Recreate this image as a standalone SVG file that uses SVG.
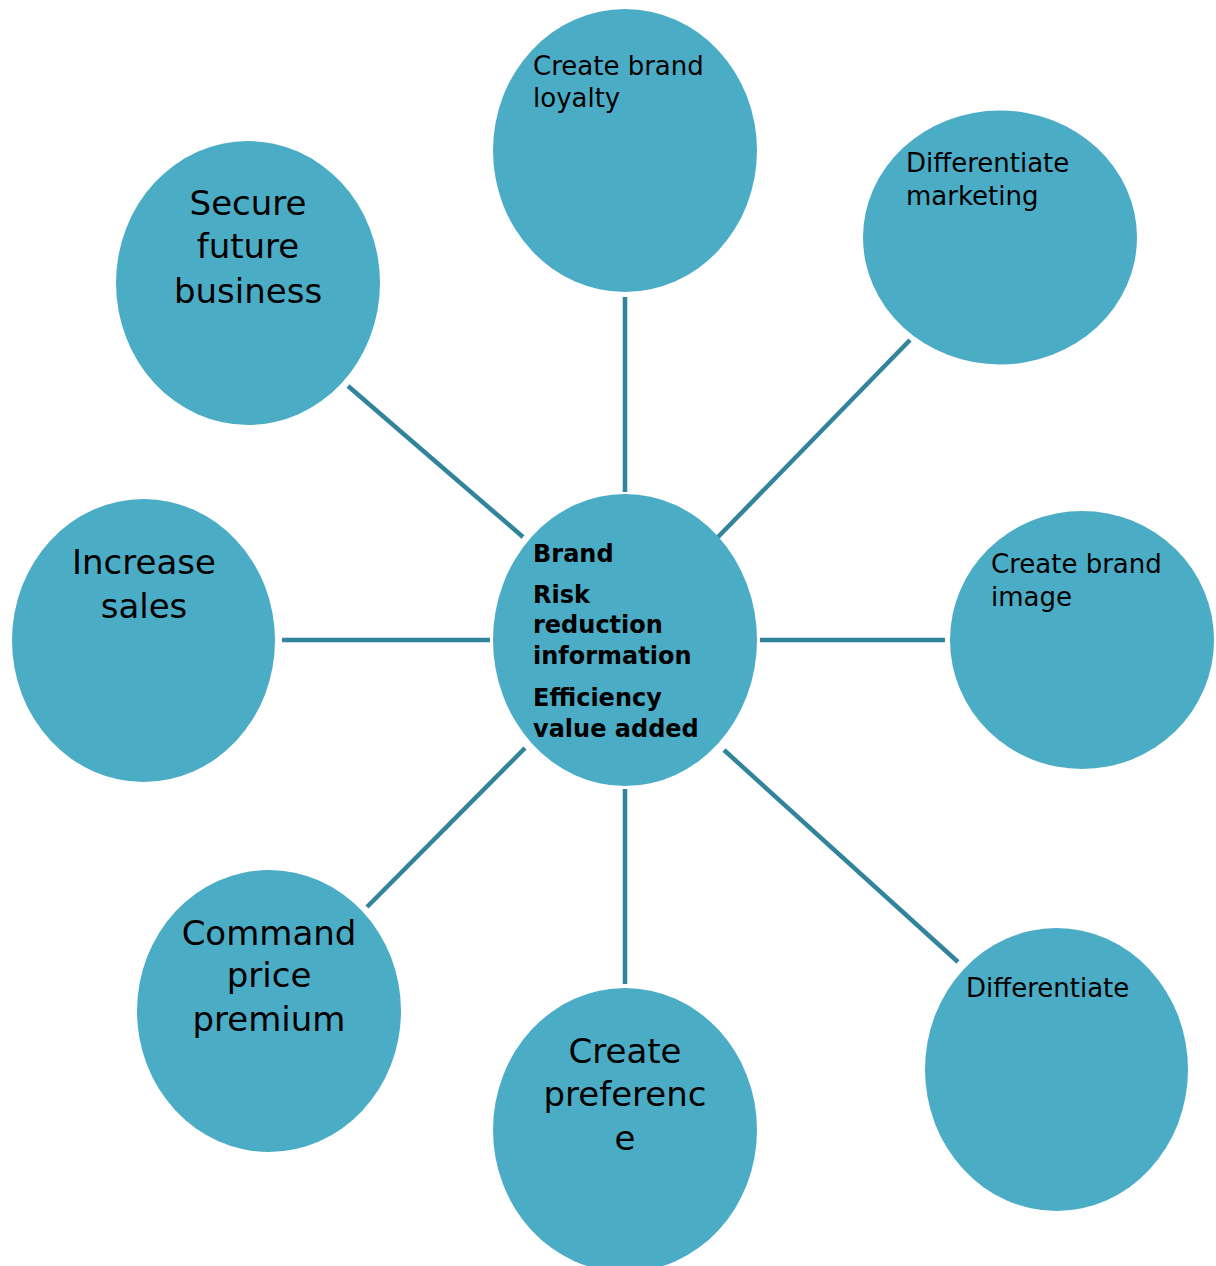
<svg xmlns="http://www.w3.org/2000/svg" width="1216" height="1266" viewBox="0 0 1216 1266">
<style>
.node{fill:#4BACC6}
.conn line{stroke:#31849B;stroke-width:4.5}
text{font-family:"DejaVu Sans","Liberation Sans",sans-serif;fill:#000}
.s{font-size:26px}
.l{font-size:34px;text-anchor:middle}
.b{font-size:24px;font-weight:bold}
</style>
<rect width="1216" height="1266" fill="#fff"/>
<g class="conn" id="connectors">
<line x1="625" y1="297" x2="625" y2="492"/>
<line x1="910" y1="340" x2="718" y2="537"/>
<line x1="760" y1="640" x2="945" y2="640"/>
<line x1="724" y1="750" x2="958" y2="962"/>
<line x1="625" y1="789" x2="625" y2="984"/>
<line x1="525" y1="748" x2="367" y2="907"/>
<line x1="282" y1="640" x2="490" y2="640"/>
<line x1="348" y1="386" x2="523" y2="537"/>
</g>
<g id="center">
<ellipse class="node" cx="625" cy="640" rx="132" ry="146"/>
<text class="b" x="533" y="562">Brand</text>
<text class="b" x="533" y="603">Risk</text>
<text class="b" x="533" y="633">reduction</text>
<text class="b" x="533" y="664">information</text>
<text class="b" x="533" y="706">Efficiency</text>
<text class="b" x="533" y="737">value added</text>
</g>
<g id="loyalty">
<ellipse class="node" cx="625" cy="150.5" rx="132" ry="141.5"/>
<text class="s" x="533" y="75">Create brand</text>
<text class="s" x="533" y="107">loyalty</text>
</g>
<g id="diffmarketing">
<ellipse class="node" cx="1000" cy="237.5" rx="137" ry="127"/>
<text class="s" x="906" y="172">Differentiate</text>
<text class="s" x="906" y="205">marketing</text>
</g>
<g id="brandimage">
<ellipse class="node" cx="1082" cy="640" rx="132" ry="129"/>
<text class="s" x="991" y="573">Create brand</text>
<text class="s" x="991" y="606">image</text>
</g>
<g id="differentiate">
<ellipse class="node" cx="1056.5" cy="1069.5" rx="131.5" ry="141.5"/>
<text class="s" x="966" y="997">Differentiate</text>
</g>
<g id="preference">
<ellipse class="node" cx="625" cy="1130" rx="132" ry="142"/>
<text class="l" x="625" y="1063">Create</text>
<text class="l" x="625" y="1106">preferenc</text>
<text class="l" x="625" y="1150">e</text>
</g>
<g id="premium">
<ellipse class="node" cx="269" cy="1011" rx="132" ry="141"/>
<text class="l" x="269" y="945">Command</text>
<text class="l" x="269" y="987">price</text>
<text class="l" x="269" y="1031">premium</text>
</g>
<g id="sales">
<ellipse class="node" cx="143.5" cy="640.5" rx="131.5" ry="141.5"/>
<text class="l" x="144" y="574">Increase</text>
<text class="l" x="144" y="618">sales</text>
</g>
<g id="secure">
<ellipse class="node" cx="248" cy="283" rx="132" ry="142"/>
<text class="l" x="248" y="215">Secure</text>
<text class="l" x="248" y="258">future</text>
<text class="l" x="248" y="303">business</text>
</g>
</svg>
